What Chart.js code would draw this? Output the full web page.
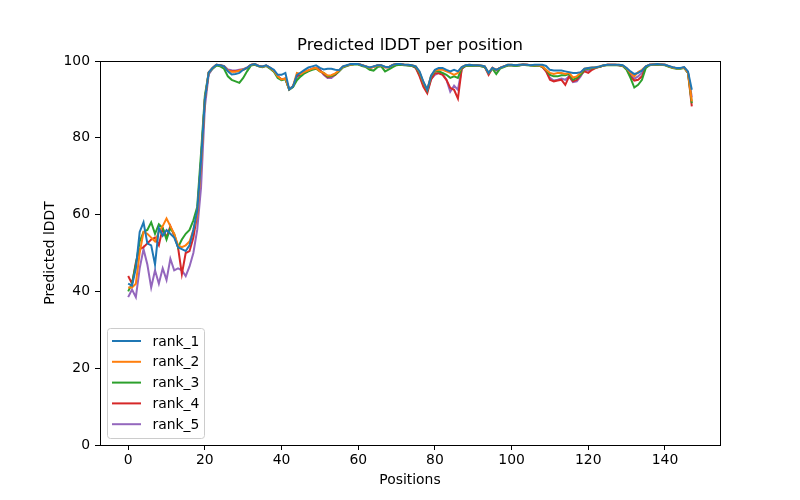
<!DOCTYPE html>
<html>
<head>
<meta charset="utf-8">
<script src="https://cdn.jsdelivr.net/npm/chart.js@4"></script>
<style>
  body { margin: 0; background: #fff; }
  #wrap { width: 800px; height: 500px; }
</style>
</head>
<body>
<div id="wrap"><canvas id="chartLddt" width="800" height="500"></canvas></div>
<script>
// posiciones 0..147 (una por residuo)
const posiciones = Array.from({ length: 148 }, (_, i) => i);
const xTicks = [0, 20, 40, 60, 80, 100, 120, 140];
const yTicks = [0, 20, 40, 60, 80, 100];
const nombres = ['rank_1', 'rank_2', 'rank_3', 'rank_4', 'rank_5'];
const colores = ['#1f77b4', '#ff7f0e', '#2ca02c', '#d62728', '#9467bd'];
const titulo = 'Predicted lDDT per position';

const rank1 = [42,41.5,46,55.5,58,52.5,52,47,56.5,54.5,56,55,54,51.5,51,50.5,52,56,61,74,
  90,97,98.2,99,98.9,98.6,97.3,96.5,96.6,96.9,97.7,98.2,99,99.2,98.7,98.6,98.9,98.3,97.7,96.4,
  96.4,96.9,92.6,93.4,96.3,97,97.7,98.3,98.6,98.9,98.2,97.8,98,98,97.7,97.6,98.6,98.9,99.2,99.2,
  99.2,98.9,98.6,98.3,98.6,98.9,98.9,98.5,98.4,99,99.2,99.2,99,99,98.9,98.6,97.3,94.6,92.5,96.2,
  97.7,98.2,98.2,97.7,97.3,97.7,97.3,98.4,98.9,99,98.9,98.9,98.8,98.6,96.9,98.2,97.7,98.2,98.6,99,
  99,98.9,99,99.1,99,98.9,99,99,99,98.7,97.7,97.5,97.5,97.5,97.3,97.1,96.9,96.9,97.1,98,
  98.2,98.3,98.4,98.6,98.9,99,99,99,99,98.9,98.2,97.3,96.6,96.9,97.5,98.6,99,99.1,99.2,99.1,
  99,98.7,98.4,98.2,98.2,98.4,97.3,92.5];
const rank2 = [41,41,42,50,55.5,55,54,53,55.5,57,59,57,55,52,51.5,52,53,56,60,73,
  90,97,98.2,99,98.9,98.6,97.5,97.2,97.2,97.5,97.8,98.2,99,99.2,98.7,98.5,98.8,98.2,97.4,96,
  95.2,95.5,92.6,93.5,96.9,96.6,97.2,97.6,98,98.2,97.3,96.9,96.2,96.3,96.8,97.5,98.5,98.8,99.1,99.2,
  99.2,98.9,98.6,98.2,98.5,98.8,98.8,98.4,98.4,99,99.2,99.2,99,99,98.9,98.6,97.1,94.4,92.5,96.2,
  97.5,97.7,97.7,97.3,96.9,96.4,96.9,98.4,98.9,99,98.9,98.9,98.8,98.6,96.9,98.2,97.7,98.2,98.6,99,
  99,98.9,99,99.1,99,98.9,98.9,98.9,98.6,97.7,96.9,96.6,96.9,96.9,96.6,96.9,95.7,96,96.9,98,
  98.2,98.3,98.4,98.6,98.9,99,99,99,99,98.8,98.1,96.9,96,97.1,97.7,98.6,99,99.1,99.2,99.1,
  99,98.6,98.3,98.1,98.1,98.3,97,89.5];
const rank3 = [40,42,47,53,55.5,56,58,55,57.5,56.5,53.5,56.5,55,51.5,53.5,55,56,58.5,62,76,
  91,97,98,98.8,98.6,98,96,95.1,94.7,94.3,95.6,97.3,98.8,99,98.6,98.4,98.7,98,97.2,95.6,
  95,95.3,92.5,93.2,95,96,96.8,97.3,97.7,98,97.3,96.9,96,96.1,96.5,97.3,98.3,98.7,99,99.1,
  99.1,98.7,98.4,97.7,97.5,98.4,98.6,97.3,97.8,98.4,98.9,99,98.9,98.8,98.7,98.4,96.9,94.3,92.3,96,
  97.3,97.3,96.9,96.4,95.6,96,95.6,98.2,98.7,98.8,98.7,98.8,98.6,98.4,96.9,98,96.6,98,98.4,98.8,
  98.8,98.7,98.8,99,98.9,98.8,98.7,98.8,98.5,97.7,96.4,96,96,96.3,96.3,96.6,95.1,95.6,96.4,97.8,
  98,98.1,98.3,98.5,98.8,98.9,98.9,98.9,98.9,98.7,97.7,95.6,93.1,93.8,95.1,98.2,98.9,99,99,99,
  98.9,98.5,98.2,98,98,98.2,96.9,89];
const rank4 = [44,42,47.5,51,51.5,52.5,53.5,54,52,56.5,54,57,54.5,51.5,44.5,50,50.5,54,60,74,
  90,97,98.2,99,98.9,98.6,97.5,97.3,97.3,97.5,97.7,98.2,99,99.2,98.7,98.5,98.8,98.2,97.4,96,
  95.2,95.4,92.6,93.4,96,96.5,97,97.5,97.9,98.2,97.6,96.6,95.8,96,96.4,97.4,98.5,98.8,99.1,99.2,
  99.2,98.9,98.6,98.2,98.5,98.8,98.8,98.4,98.4,99,99.2,99.2,99,98.9,98.8,98.2,96,93.3,91.6,95.2,
  96.8,96.8,96.4,95.1,93,92.5,90.2,98,98.8,98.9,98.8,98.9,98.7,98.5,96.4,98.2,97.6,98.2,98.6,98.9,
  98.9,98.8,98.9,99.1,99,98.9,98.8,98.9,98.5,97.3,95.1,94.7,94.9,95.1,93.8,96,94.7,95.1,96.4,97.3,
  96.9,97.7,98.2,98.5,98.8,99,99,99,98.9,98.7,98,96,94.9,95.1,96,98.5,99,99.1,99.1,99.1,
  99,98.6,98.3,98.1,98.1,98.3,96.9,88.2];
const rank5 = [38.5,40.5,38.5,46,51,47,41,45.5,42,46,43,48.5,45.5,46,45.5,44,46.5,50,56,67,
  88,96.5,98,99,98.9,98.7,97.8,97.6,97.5,97.7,97.9,98.3,99,99.2,98.7,98.5,98.8,98.2,97.4,96,
  95.2,95.4,92.6,93.4,96,96.4,97,97.5,98,98.2,97.7,96.4,95.6,95.6,96.4,97.4,98.5,98.8,99.1,99.2,
  99.2,98.9,98.6,98.2,98.5,98.8,98.8,98.4,98.4,99,99.2,99.2,99,98.9,98.8,98.2,96.4,93.6,92,95.3,
  96.4,96.9,96.6,95.1,92,93.6,92.5,97.9,98.8,98.9,98.8,98.9,98.7,98.5,96.7,98.2,97.6,98.2,98.6,98.9,
  98.9,98.8,98.9,99.1,99,98.9,98.8,98.9,98.5,97.3,95.6,94.9,95.1,95.4,95.1,96,94.5,94.7,96,97.7,
  97.5,98,98.3,98.5,98.8,99,99,99,98.9,98.7,98,96.4,95.4,96,96.9,98.5,99,99.1,99.1,99.1,
  99,98.6,98.3,98.1,98.1,98.3,97,90.5];

const series = [rank1, rank2, rank3, rank4, rank5];

Chart.defaults.font.family = "'DejaVu Sans', sans-serif";
Chart.defaults.color = '#000';

// marco completo (los cuatro lados) y título centrado sobre el área de datos
const marcoPlugin = {
    id: 'marco',
    afterDatasetsDraw(chart) {
        const { ctx, chartArea: a } = chart;
        ctx.save();
        ctx.strokeStyle = '#000';
        ctx.lineWidth = 1;
        ctx.strokeRect(Math.round(a.left) + 0.5, Math.round(a.top) + 0.5,
            Math.round(a.right - a.left), Math.round(a.bottom - a.top));
        ctx.font = "16.5px 'DejaVu Sans'";
        ctx.fillStyle = '#000';
        ctx.textAlign = 'center';
        ctx.textBaseline = 'middle';
        ctx.fillText(titulo, (a.left + a.right) / 2, a.top - 15);
        ctx.restore();
    }
};

// leyenda dentro del área, abajo a la izquierda
const leyendaPlugin = {
    id: 'leyendaDentro',
    afterDraw(chart) {
        const { ctx, chartArea: a } = chart;
        const ds = chart.data.datasets;
        const w = 97, rowH = 20.8, h = 110;
        const x0 = a.left + 7.5, y0 = a.bottom - 6.5 - h;
        ctx.save();
        ctx.beginPath();
        ctx.roundRect(x0, y0, w, h, 3);
        ctx.fillStyle = 'rgba(255,255,255,0.8)';
        ctx.fill();
        ctx.strokeStyle = '#cccccc';
        ctx.lineWidth = 1;
        ctx.stroke();
        ctx.font = "13.9px 'DejaVu Sans'";
        ctx.textBaseline = 'middle';
        ctx.fillStyle = '#000';
        ds.forEach((d, i) => {
            const y = y0 + 12.5 + i * rowH;
            ctx.beginPath();
            ctx.moveTo(x0 + 4.5, y);
            ctx.lineTo(x0 + 33.5, y);
            ctx.strokeStyle = d.borderColor;
            ctx.lineWidth = 2;
            ctx.stroke();
            ctx.fillText(d.label, x0 + 45, y + 1);
        });
        ctx.restore();
    }
};

const datasets = series.map((s, k) => ({
    label: nombres[k],
    data: posiciones.map((p, i) => ({ x: p, y: s[i] })),
    borderColor: colores[k],
    backgroundColor: colores[k],
    borderWidth: 2,
    pointRadius: 0,
    tension: 0,
    fill: false
}));

new Chart(document.getElementById('chartLddt'), {
    type: 'line',
    data: { datasets },
    plugins: [marcoPlugin, leyendaPlugin],
    options: {
        responsive: false,
        animation: false,
        devicePixelRatio: 1,
        layout: { padding: { left: 0, right: 80, top: 61, bottom: 0 } },
        plugins: {
            legend: { display: false },
            tooltip: { enabled: false },
            title: { display: false }
        },
        scales: {
            x: {
                type: 'linear',
                min: -7.35,
                max: 154.35,
                afterBuildTicks: s => { s.ticks = xTicks.map(v => ({ value: v })); },
                afterFit: s => { s.height = 55; },
                ticks: { color: '#000', font: { size: 13.9 }, padding: 2, maxRotation: 0 },
                grid: { display: true, drawOnChartArea: false, drawTicks: true, tickLength: 5, color: '#000', lineWidth: 1 },
                border: { display: true, color: '#000', width: 1 },
                title: { display: true, text: 'Positions', color: '#000', font: { size: 13.9 }, padding: { top: 0, bottom: 11 } }
            },
            y: {
                min: 0,
                max: 100,
                afterBuildTicks: s => { s.ticks = yTicks.map(v => ({ value: v })); },
                afterFit: s => { s.width = 100; },
                ticks: { color: '#000', font: { size: 13.9 }, padding: 5 },
                grid: { display: true, drawOnChartArea: false, drawTicks: true, tickLength: 5, color: '#000', lineWidth: 1 },
                border: { display: true, color: '#000', width: 1 },
                title: { display: true, text: 'Predicted lDDT', color: '#000', font: { size: 13.9 }, padding: { top: 42, bottom: 0 } }
            }
        }
    }
});
</script>
</body>
</html>
